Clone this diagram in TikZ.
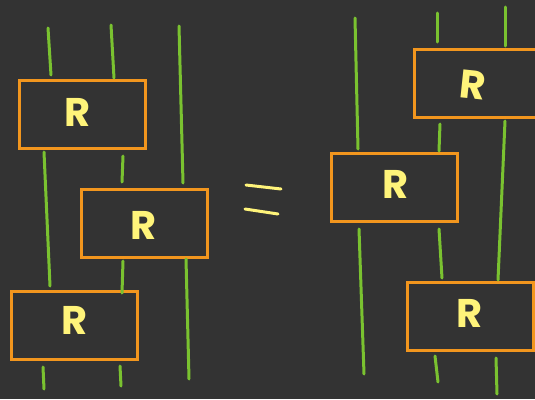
\documentclass[tikz,border=0pt]{standalone}
\usepackage{fontspec}
\setmainfont{Poppins}
\definecolor{bg}{HTML}{333333}
\definecolor{boxc}{HTML}{F2961E}
\definecolor{wire}{HTML}{7AC230}
\definecolor{lab}{HTML}{FFF47A}
\tikzset{
  rbox/.style={draw=boxc, line width=3pt, minimum width=126pt, minimum height=68pt, inner sep=0pt},
  rlab/.style={font=\fontsize{40}{40}\selectfont\bfseries, text=lab, inner sep=0pt},
  wireline/.style={draw=wire, line width=3pt, line cap=round},
  eqline/.style={draw=lab, line width=3pt, line cap=round}
}
\begin{document}
\begin{tikzpicture}[x=1pt,y=-1pt]
\fill[bg] (0,0) rectangle (535,399);
\useasboundingbox (0,0) rectangle (535,399);
\clip (0,0) rectangle (535,399);
% left side boxes
\node[rbox] (A) at (82,114) {};
\node[rbox] (B) at (144,223) {};
\node[rbox] (C) at (74,325) {};
% right side boxes
\node[rbox] (D) at (477,83) {};
\node[rbox] (E) at (394,187) {};
\node[rbox] (F) at (470,316) {};
% labels
\node[rlab] (lA) at (78,112) {R};
\node[rlab] (lB) at (144,225) {R};
\node[rlab] (lC) at (75,320) {R};
\node[rlab, rotate=-6] (lD) at (473,85) {R};
\node[rlab] (lE) at (396,184) {R};
\node[rlab] (lF) at (470,313) {R};
% left wires
\draw[wireline] (48,28) -- (51,75);
\draw[wireline] (111,25) -- (114,78);
\draw[wireline] (179,26) -- (183,183);
\draw[wireline] (44,152) -- (50,286);
\draw[wireline] (123,156) -- (122,182);
\draw[wireline] (123,261) -- (122,293);
\draw[wireline] (186,259) -- (189,379);
\draw[wireline] (43,367) -- (44,389);
\draw[wireline] (120,366) -- (121,386);
% equals
\draw[eqline] (246,185) -- (281,189);
\draw[eqline] (245,209) -- (278,214);
% right wires
\draw[wireline] (355,18) -- (358,149);
\draw[wireline] (437,13) -- (437,42);
\draw[wireline] (505,7) -- (505,46);
\draw[wireline] (440,124) -- (439,151);
\draw[wireline] (505,121) -- (498,280);
\draw[wireline] (359,229) -- (364,374);
\draw[wireline] (439,229) -- (442,278);
\draw[wireline] (435,356) -- (438,382);
\draw[wireline] (496,358) -- (497,394);
\end{tikzpicture}
\end{document}
